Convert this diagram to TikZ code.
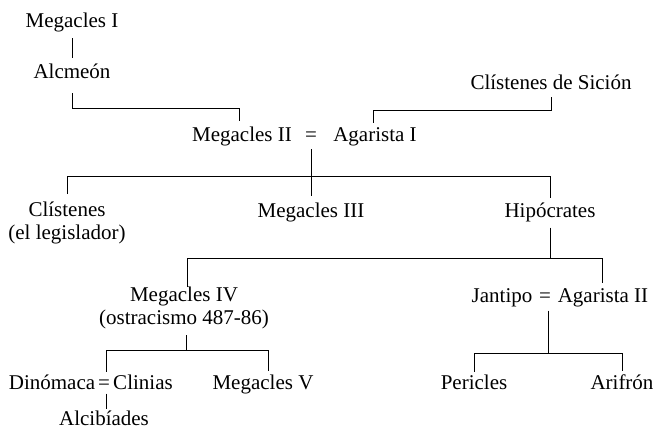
\documentclass[tikz,border=0pt]{standalone}
\usepackage{fontspec}
\setmainfont{Liberation Serif}
\begin{document}
\begin{tikzpicture}[x=1pt,y=-1pt,
  person/.style={font=\fontsize{21}{24}\selectfont, inner sep=0pt, outer sep=0pt,
                 text height=14.5pt, text depth=4.5pt, anchor=base},
  twoline/.style={font=\fontsize{21}{23}\selectfont, inner sep=0pt, outer sep=0pt,
                  align=center, anchor=north},
  link/.style={line width=0.8pt, shorten <=6pt, shorten >=6pt}]
\useasboundingbox (0,0) rectangle (657,436);

% generation 1-2
\node[person] (m1)  at (72,28)  {Megacles I};
\node[person] (alc) at (72,79)  {Alcmeón};
\node[person] (cds) at (551,90) {Clístenes de Sición};
% couple
\node[person] (m2)  at (242,142) {Megacles II};
\node[person] (eq1) at (311,142) {=};
\node[person] (ag1) at (375,142) {Agarista I};
% children
\node[twoline] (cl)  at (67,202)  {Clístenes\\(el legislador)};
\node[person]  (m3)  at (311,217) {Megacles III};
\node[person]  (hip) at (550,217) {Hipócrates};
% next generation
\node[twoline] (m4)  at (184,287) {Megacles IV\\(ostracismo 487-86)};
\node[person]  (jan) at (502,302) {Jantipo};
\node[person]  (eq2) at (545,302) {=};
\node[person]  (ag2) at (603,302) {Agarista II};
% last generation
\node[person]  (din) at (52,389)  {Dinómaca};
\node[person]  (eq3) at (104,389) {=};
\node[person]  (cli) at (143,389) {Clinias};
\node[person]  (m5)  at (263,389) {Megacles V};
\node[person]  (per) at (474,389) {Pericles};
\node[person]  (ari) at (622,389) {Arifrón};
\node[person]  (alci) at (104,425) {Alcibíades};

% connectors
\draw[link] (m1.south) -- (alc.north);
\draw[link, shorten <=10pt] (alc.south) -- (alc.south |- 0,108) -| ([xshift=-3pt]m2.north);
\draw[link, shorten <=3pt, shorten >=4pt] (cds.south) -- (cds.south |- 0,110) -| ([xshift=-2pt]ag1.north);
\draw[link, shorten <=3pt, shorten >=7pt] (eq1.south) -- (m3.north);
\draw[link, shorten <=8pt, shorten >=5pt] (cl.north) -- (cl.north |- 0,176) -- (hip.north |- 0,176) -- (hip.north);
\draw[link, shorten >=0pt] (hip.south) -- (hip.south |- 0,258);
\draw[link, shorten <=0pt, shorten >=5pt] ([xshift=3pt]m4.north) -- ([xshift=3pt]m4.north |- 0,258) -- ([xshift=-1pt]ag2.north |- 0,258) -- ([xshift=-1pt]ag2.north);
\draw[link, shorten >=0pt] ([xshift=2pt]m4.south) -- ([xshift=2pt]m4.south |- 0,350);
\draw[link, shorten <=3pt, shorten >=4pt] ([xshift=2pt]eq3.north) -- ([xshift=2pt]eq3.north |- 0,350) -- ([xshift=5pt]m5.north |- 0,350) -- ([xshift=5pt]m5.north);
\draw[link, shorten <=4pt, shorten >=0pt] ([xshift=3pt]eq2.south) -- ([xshift=3pt]eq2.south |- 0,353);
\draw[link, shorten <=3pt, shorten >=4pt] (per.north) -- (per.north |- 0,353) -- (ari.north |- 0,353) -- (ari.north);
\draw[link, shorten <=0pt, shorten >=2pt] ([xshift=2pt]eq3.south) -- ([xshift=2pt]alci.north);
\end{tikzpicture}
\end{document}
